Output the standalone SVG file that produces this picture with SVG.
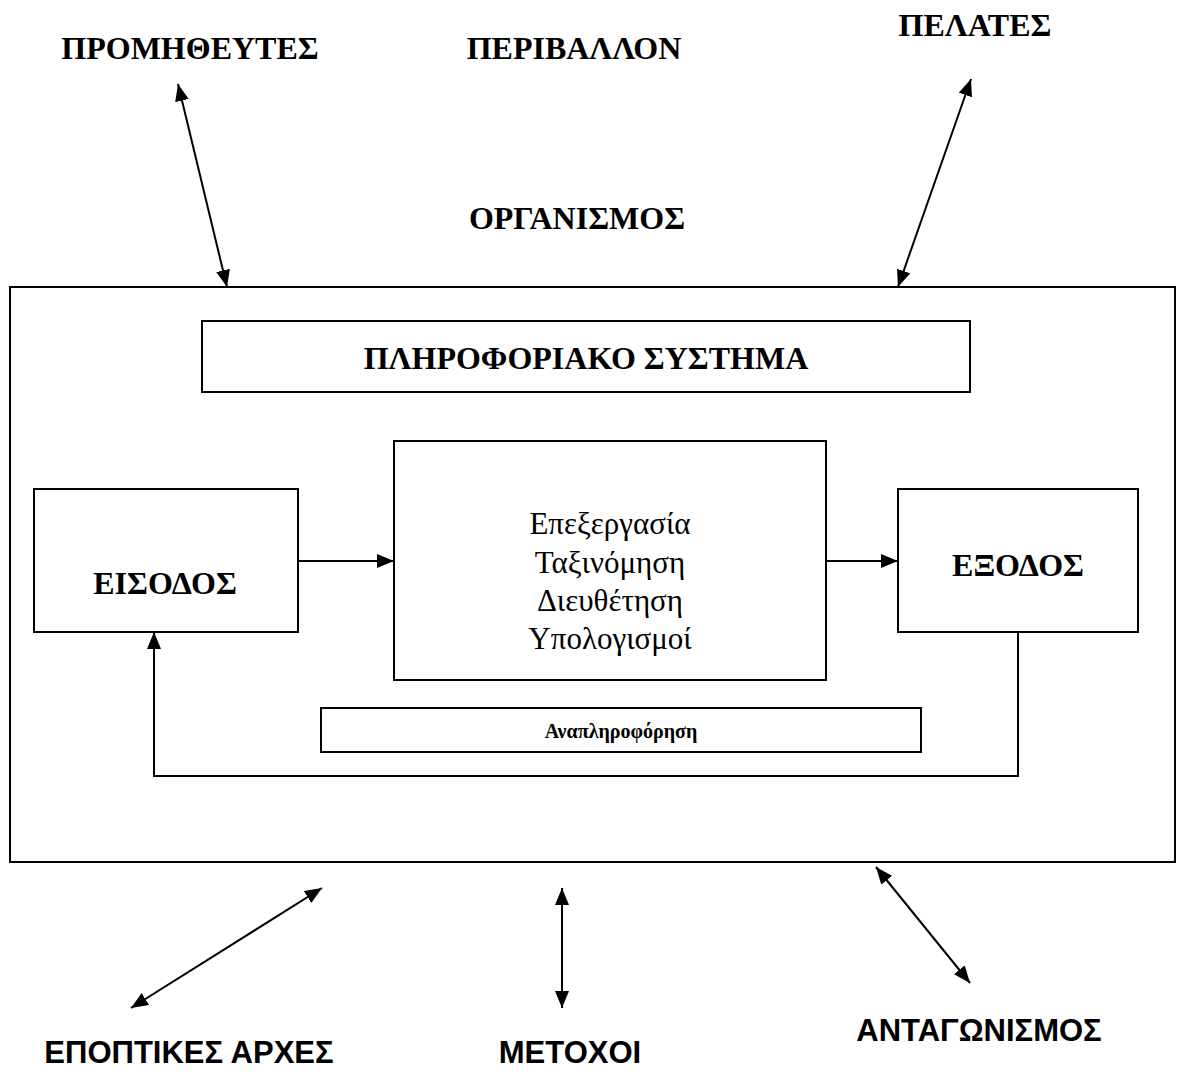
<svg xmlns="http://www.w3.org/2000/svg" width="1187" height="1072" viewBox="0 0 1187 1072">
<style>
.box{fill:#fff;stroke:#000;stroke-width:2}
.ln{fill:none;stroke:#000;stroke-width:2}
.tb{font-family:"Liberation Serif","Times New Roman",serif;font-weight:bold;font-size:32px;text-anchor:middle;fill:#000}
.tr{font-family:"Liberation Serif","Times New Roman",serif;font-size:31px;text-anchor:middle;fill:#000}
.ts{font-family:"Liberation Sans",Arial,sans-serif;font-weight:bold;font-size:31px;text-anchor:middle;fill:#000}
</style>
<defs>
<marker id="ah" viewBox="0 0 17 14" refX="17" refY="7" markerWidth="17" markerHeight="14" markerUnits="userSpaceOnUse" orient="auto-start-reverse">
<path d="M0,0 L17,7 L0,14 Z" fill="#000"/>
</marker>
</defs>
<rect width="1187" height="1072" fill="#fff"/>
<g id="outer"><rect class="box" x="10" y="287" width="1165" height="575"/></g>
<g id="labels">
<text class="tb" x="190" y="59">ΠΡΟΜΗΘΕΥΤΕΣ</text>
<text class="tb" x="574" y="59">ΠΕΡΙΒΑΛΛΟΝ</text>
<text class="tb" x="975" y="36">ΠΕΛΑΤΕΣ</text>
<text class="tb" x="577" y="229">ΟΡΓΑΝΙΣΜΟΣ</text>
<text class="ts" x="189" y="1063">ΕΠΟΠΤΙΚΕΣ ΑΡΧΕΣ</text>
<text class="ts" x="570" y="1063">ΜΕΤΟΧΟΙ</text>
<text class="ts" x="979" y="1041">ΑΝΤΑΓΩΝΙΣΜΟΣ</text>
</g>
<g id="is"><rect class="box" x="202" y="321" width="768" height="71"/><text class="tb" x="586" y="369">ΠΛΗΡΟΦΟΡΙΑΚΟ ΣΥΣΤΗΜΑ</text></g>
<g id="process"><rect class="box" x="394" y="441" width="432" height="239"/>
<text class="tr" x="610" y="534">Επεξεργασία</text>
<text class="tr" x="610" y="573">Ταξινόμηση</text>
<text class="tr" x="610" y="611">Διευθέτηση</text>
<text class="tr" x="610" y="649">Υπολογισμοί</text></g>
<g id="input"><rect class="box" x="34" y="489" width="264" height="143"/><text class="tb" x="165" y="594">ΕΙΣΟΔΟΣ</text></g>
<g id="output"><rect class="box" x="898" y="489" width="240" height="143"/><text class="tb" x="1018" y="576">ΕΞΟΔΟΣ</text></g>
<g id="feedback"><rect class="box" x="321" y="708" width="600" height="44"/><text class="tb" x="621" y="738" style="font-size:20px">Αναπληροφόρηση</text></g>
<g id="connectors">
<line class="ln" x1="298" y1="561" x2="394" y2="561" marker-end="url(#ah)"/>
<line class="ln" x1="826" y1="561" x2="898" y2="561" marker-end="url(#ah)"/>
<polyline class="ln" points="1018,632 1018,776 154,776 154,632" marker-end="url(#ah)"/>
<line class="ln" x1="178" y1="84" x2="227" y2="287" marker-start="url(#ah)" marker-end="url(#ah)"/>
<line class="ln" x1="971" y1="79" x2="898" y2="287" marker-start="url(#ah)" marker-end="url(#ah)"/>
<line class="ln" x1="322" y1="888" x2="131" y2="1008" marker-start="url(#ah)" marker-end="url(#ah)"/>
<line class="ln" x1="562" y1="888" x2="562" y2="1008" marker-start="url(#ah)" marker-end="url(#ah)"/>
<line class="ln" x1="876" y1="867" x2="970" y2="983" marker-start="url(#ah)" marker-end="url(#ah)"/>
</g>
</svg>
